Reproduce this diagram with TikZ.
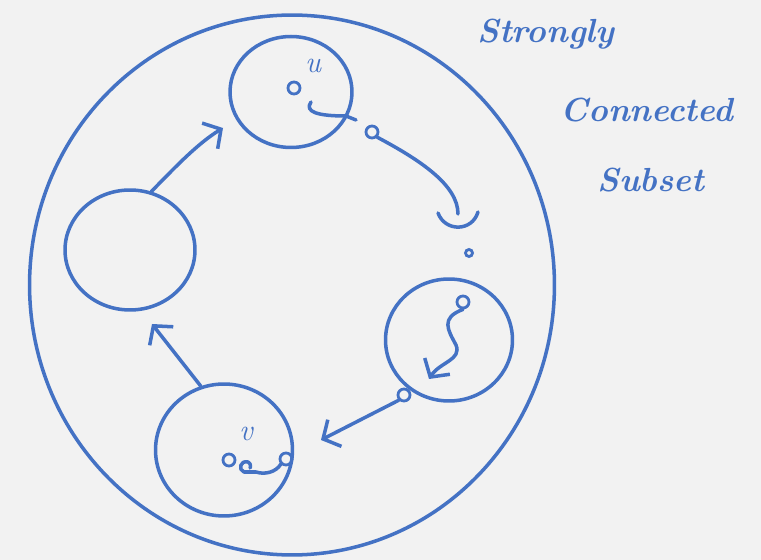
\documentclass[tikz,border=0pt]{standalone}
\usepackage{tikz}
\usetikzlibrary{shapes.geometric,arrows.meta,positioning,calc}
\usepackage{xcolor}
\definecolor{inkblue}{RGB}{68,114,196}
\definecolor{paper}{RGB}{242,242,242}

\begin{document}
\begin{tikzpicture}[x=0.02cm, y=-0.02cm,
    ink/.style={draw=inkblue, line width=2pt, line cap=round, line join=round},
    comp/.style={ellipse, ink, inner sep=0pt},
    vtx/.style={circle, draw=inkblue, line width=1.6pt, minimum size=0.24cm, inner sep=0pt},
    lbl/.style={text=inkblue, font=\LARGE\itshape},
    word/.style={text=inkblue, font=\fontsize{19}{23}\selectfont\bfseries\itshape, inner sep=0pt},
    arr/.style={ink, -{Straight Barb[length=2.6mm, width=6mm]}}
]
\fill[paper] (0,0) rectangle (761,560);
\useasboundingbox (0,0) rectangle (761,560);

% the whole subset
\node[comp, minimum width=10.5cm, minimum height=10.8cm] (scs) at (292,285) {};

% the four parts
\node[comp, minimum width=2.44cm, minimum height=2.22cm] (cu) at (291,92)  {};
\node[comp, minimum width=2.6cm,  minimum height=2.4cm]  (cl) at (130,250) {};
\node[comp, minimum width=2.54cm, minimum height=2.44cm] (cr) at (449,340) {};
\node[comp, minimum width=2.74cm, minimum height=2.64cm] (cv) at (224,450) {};

% labels and vertices
\node[lbl] (ulbl) at (313,66)  {u};
\node[lbl] (vlbl) at (246,434) {v};
\node[vtx] (u)    at (294,88)  {};
\node[vtx] (uout) at (372,132) {};
\node[vtx, minimum size=0.14cm] (mid) at (469,253) {};
\node[vtx] (rin)  at (463,302) {};
\node[vtx] (rout) at (404,395) {};
\node[vtx] (v)    at (229,460) {};
\node[vtx] (vin)  at (286,459) {};

\coordinate (ustart) at (311,102);
\coordinate (uhook)  at (356,120);
\coordinate (cup)    at (458,214);
\coordinate (rtip)   at (429,379);
\coordinate (vtip)   at (321,440);
\coordinate (vloop)  at (250,468);

% path u -> ... -> v
\draw[ink] (ustart) .. controls (304,112) and (318,116) .. (346,116) -- (uhook);
\draw[ink] (uout.south east) .. controls (420,160) and (458,185) .. (cup);
\draw[ink] (438,213) .. controls (445,232) and (472,232) .. (478,212);
\draw[arr] (rin.south) .. controls (440,318) and (448,330) .. (456,345)
    .. controls (462,360) and (440,362) .. (rtip);
\draw[arr] (rout.south west) -- (vtip);
\draw[ink] (vin.south west) .. controls (276,472) and (265,475) .. (256,472)
    -- (244,472) .. controls (238,470) and (240,460) .. (248,462)
    .. controls (252,464) and (250,468) .. (vloop);

% arrows between parts
\draw[arr] (cl.70) .. controls (168,175) and (195,145) .. (223,128);
\draw[arr] (cv.110) -- (152,324);

% caption
\node[word] (w1) at (546,34)  {Strongly};
\node[word] (w2) at (647,110) {Connected};
\node[word] (w3) at (651,180) {Subset};
\end{tikzpicture}
\end{document}
